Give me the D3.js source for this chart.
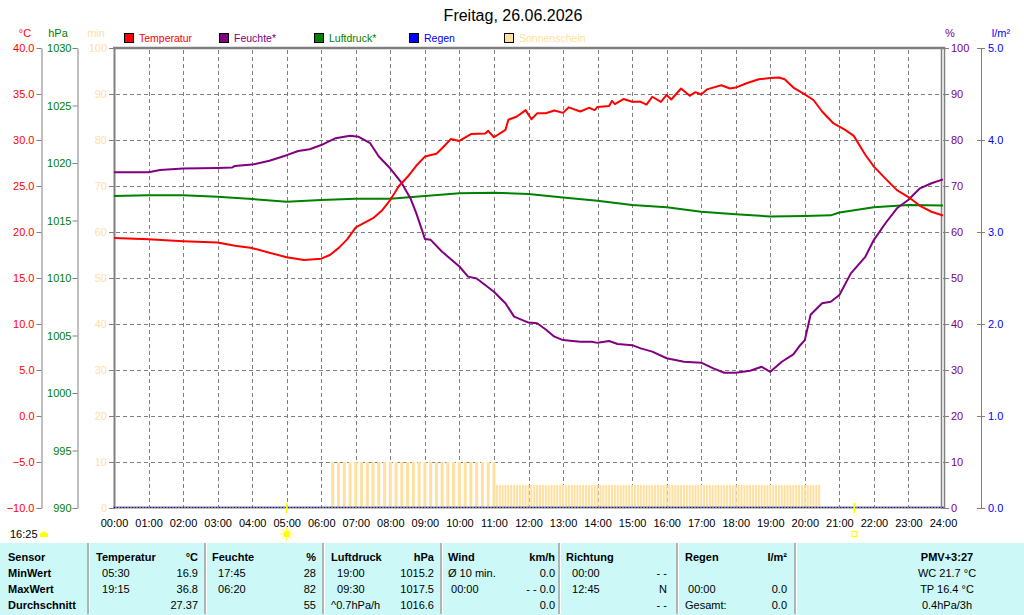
<!DOCTYPE html>
<html>
<head>
<meta charset="utf-8">
<script src="https://cdn.jsdelivr.net/npm/d3@7"></script>
<style>
html, body { margin: 0; padding: 0; background: #fff; }
#chart { display: block; }
</style>
</head>
<body>
<svg id="chart"></svg>
<script>
const svgWidth = 1024;
const svgHeight = 615;

// ---- DATA ----
const title = "Freitag, 26.06.2026";

const tempTime = ["00:00","01:00","02:00","03:00","03:30","04:00","04:30","05:00","05:30","06:00",
    "06:15","06:30","06:45","07:00","07:30","07:45","08:00","08:15","08:30","08:45","09:00",
    "09:20","09:30","09:45","10:00","10:20","10:45","10:50","11:00","11:20","11:25","11:40",
    "11:55","12:05","12:15","12:30","12:45","13:00","13:10","13:30","13:45","13:55","14:00",
    "14:20","14:25","14:30","14:45","15:00","15:15","15:25","15:35","15:50","16:00","16:08",
    "16:25","16:40","16:50","17:00","17:10","17:35","17:50","18:00","18:20","18:40","19:00",
    "19:15","19:25","19:35","19:40","20:00","20:15","20:30","20:50","21:10","21:25","21:45",
    "22:00","22:20","22:40","23:00","23:20","23:40","24:00"];
const tempValue = [19.35,19.2,19.0,18.85,18.5,18.25,17.75,17.25,16.95,17.1,
    17.5,18.25,19.2,20.5,21.5,22.3,23.5,25.0,26.0,27.2,28.2,
    28.5,29.1,30.1,29.9,30.65,30.7,31.0,30.3,31.1,32.2,32.55,
    33.25,32.25,32.9,32.9,33.2,32.95,33.55,33.1,33.5,33.25,33.6,
    33.7,34.25,33.9,34.45,34.15,34.15,33.85,34.7,34.15,34.9,34.4,
    35.6,34.8,35.2,34.95,35.5,35.95,35.6,35.7,36.2,36.6,36.75,
    36.8,36.6,36.0,35.7,34.95,34.35,33.1,31.8,31.1,30.45,28.4,
    27.1,25.8,24.55,23.8,22.85,22.2,21.8];

const humTime = ["00:00","01:00","01:20","02:00","03:00","03:25","03:30","04:00","04:30","05:00",
    "05:20","05:40","06:00","06:25","06:50","07:05","07:25","07:40","08:00","08:20","08:35",
    "08:45","08:55","09:00","09:10","09:30","10:00","10:15","10:30","11:00","11:20","11:35",
    "12:00","12:15","12:30","12:45","13:00","13:30","13:50","14:00","14:20","14:35","15:00",
    "15:15","15:35","16:00","16:30","17:00","17:20","17:40","18:00","18:25","18:45","19:00",
    "19:20","19:40","19:50","20:00","20:10","20:30","20:45","21:00","21:20","21:45","22:00",
    "22:20","22:40","23:00","23:20","23:40","24:00"];
const humValue = [73.0,73.0,73.5,73.8,73.9,74.0,74.35,74.65,75.5,76.7,
    77.6,78.0,78.9,80.4,80.9,80.7,79.3,76.4,73.8,70.6,67.3,
    64.1,60.4,58.5,58.3,55.7,52.5,50.3,49.9,47.0,44.5,41.6,
    40.3,40.15,38.8,37.25,36.5,36.15,36.15,35.9,36.3,35.65,35.4,
    34.7,34.0,32.55,31.8,31.6,30.4,29.4,29.4,29.85,30.7,29.6,
    31.8,33.4,35.1,36.5,42.0,44.5,44.85,46.3,51.0,54.6,58.3,
    61.9,65.15,67.0,69.5,70.6,71.45];

const presTime = ["00:00","01:00","02:00","03:00","04:00","05:00","06:00","07:00","08:00","09:00",
    "10:00","11:00","12:00","13:00","14:00","15:00","16:00","17:00","18:00","19:00","20:00",
    "20:45","21:00","22:00","23:00","24:00"];
const presValue = [1017.13,1017.2,1017.2,1017.07,1016.87,1016.63,1016.78,1016.9,1016.9,1017.13,
    1017.36,1017.42,1017.3,1017.0,1016.72,1016.35,1016.15,1015.77,1015.54,1015.35,1015.4,
    1015.45,1015.7,1016.15,1016.35,1016.3];

const rainTime = ["00:00","06:00","12:00","18:00","24:00"];
const rainValue = [0.0,0.0,0.0,0.0,0.0];

// sunshine minutes: 10-minute records from 06:20, then 5-minute records from 11:05
const sunLongStart = "06:20";
const sunLong = [10,10,10,10,10,10,10,10,10,10,10,10,
                 10,10,10,10,10,10,10,10,10,10,10,10,
                 10,10,10,10,10];
const sunShortStart = "11:05";
const sunShort = [5,5,5,5,5,5,5,5,5,5,5,5,
                  5,5,5,5,5,5,5,5,5,5,5,5,
                  5,5,5,5,5,5,5,5,5,5,5,5,
                  5,5,5,5,5,5,5,5,5,5,5,5,
                  5,5,5,5,5,5,5,5,5,5,5,5,
                  5,5,5,5,5,5,5,5,5,5,5,5,
                  5,5,5,5,5,5,5,5,5,5,5,5,
                  5,5,5,5,5,5,5,5,5,5,5,5,
                  5,5,5,5,5,5,5,5,5,5,5,5,
                  5,5,5,5,5];

const sunrise = "05:00";
const sunset = "21:26";
const dayLength = "16:25";

const hourTicks = d3.range(0, 25);
const tempTicks = [40,35,30,25,20,15,10,5,0,-5,-10];
const presTicks = [1030,1025,1020,1015,1010,1005,1000,995,990];
const pctTicks = [100,90,80,70,60,50,40,30,20,10,0];
const rainTicks = [5,4,3,2,1,0];

const legendNames = ["Temperatur","Feuchte*","Luftdruck*","Regen","Sonnenschein"];

const NB = "\u00a0";
const tableRows = [
    ["Sensor","Temperatur","°C","Feuchte","%","Luftdruck","hPa","Wind","km/h","Richtung","","Regen","l/m²","PMV+3:27"],
    ["MinWert",NB+NB+"05:30","16.9",NB+NB+"17:45","28",NB+NB+"19:00","1015.2","Ø 10 min.","0.0",NB+NB+"00:00","- -","","","WC 21.7 °C"],
    ["MaxWert",NB+NB+"19:15","36.8",NB+NB+"06:20","82",NB+NB+"09:30","1017.5",NB+"00:00","- - 0.0",NB+NB+"12:45","N",NB+"00:00","0.0","TP 16.4 °C"],
    ["Durchschnitt","","27.37","","55","^0.7hPa/h","1016.6","","0.0","","- -","Gesamt:","0.0","0.4hPa/3h"]
];

// ---- COLOURS / LAYOUT ----
const cTemp = "#ff0000", cHum = "#800080", cPres = "#008000", cRain = "#0000ff", cSun = "#ffe0a0";
const cGrid = "#808080";
const fontFam = "Liberation Sans, Arial, sans-serif";

var margin = { top: 48, left: 114, right: 1024 - 943, bottom: 615 - 508 };
var innerWidth = svgWidth - margin.left - margin.right;
var innerHeight = svgHeight - margin.top - margin.bottom;

const svg = d3.select("#chart")
    .attr("width", svgWidth)
    .attr("height", svgHeight)
    .attr("viewBox", "0 0 " + svgWidth + " " + svgHeight)
    .attr("font-family", fontFam)
    .attr("font-size", 11);

function toHour(s) {
    var p = s.split(":");
    return +p[0] + (+p[1]) / 60;
}
function zip(times, vals) {
    return times.map(function (t, i) { return { h: toHour(t), v: vals[i] }; });
}

// SCALES
const x = d3.scaleLinear().domain([0, 24]).range([margin.left, margin.left + innerWidth]);
const yTemp = d3.scaleLinear().domain([-10, 40]).range([508, 48]);
const yPres = d3.scaleLinear().domain([990, 1030]).range([508, 48]);
const yPct = d3.scaleLinear().domain([0, 100]).range([508, 48]);
const yRain = d3.scaleLinear().domain([0, 5]).range([508, 48]);

// TITLE
svg.append("text")
    .attr("x", 513).attr("y", 21)
    .attr("text-anchor", "middle")
    .attr("font-size", 16)
    .text(title);

// AXIS HEADERS
function header(txt, xp, col) {
    svg.append("text").attr("x", xp).attr("y", 37)
        .attr("text-anchor", "middle")
        .attr("fill", col).text(txt);
}
header("°C", 25, cTemp);
header("hPa", 58, cPres);
header("min", 96, cSun);
header("%", 950, cHum);
header("l/m²", 1001, cRain);

// LEGEND
const legendColors = [cTemp, cHum, cPres, cRain, cSun];
const legendX = [124.5, 219.5, 314.5, 409.5, 504.5];
legendNames.forEach(function (name, i) {
    svg.append("rect")
        .attr("x", legendX[i]).attr("y", 33.5)
        .attr("width", 9).attr("height", 9)
        .attr("fill", legendColors[i])
        .attr("stroke", "#000").attr("stroke-width", 1);
    svg.append("text")
        .attr("x", legendX[i] + 14.5).attr("y", 42)
        .attr("font-size", 10.5)
        .attr("fill", legendColors[i])
        .text(name);
});

// GRID
const grid = svg.append("g");
hourTicks.slice(1, 24).forEach(function (h) {
    grid.append("line")
        .attr("x1", Math.round(x(h)) + 0.5).attr("x2", Math.round(x(h)) + 0.5)
        .attr("y1", 50).attr("y2", 507)
        .attr("stroke", cGrid).attr("stroke-dasharray", "4,3");
});
pctTicks.slice(1, 10).forEach(function (p) {
    grid.append("line")
        .attr("x1", 116).attr("x2", 941)
        .attr("y1", Math.round(yPct(p)) + 0.5).attr("y2", Math.round(yPct(p)) + 0.5)
        .attr("stroke", cGrid).attr("stroke-dasharray", "4,3");
});

// SUNSHINE BARS
const sunBars = svg.append("g");
sunBars.selectAll("rect.long")
    .data(sunLong.map(function (v, i) { return { h: toHour(sunLongStart) + i * 10 / 60, v: v }; }))
    .enter().append("rect")
    .attr("x", function (d) { return x(d.h) - 1.5; })
    .attr("y", function (d) { return yPct(d.v); })
    .attr("width", 3)
    .attr("height", function (d) { return 508 - yPct(d.v); })
    .attr("fill", cSun);
sunBars.selectAll("rect.short")
    .data(sunShort.map(function (v, i) { return { h: toHour(sunShortStart) + i * 5 / 60, v: v }; }))
    .enter().append("rect")
    .attr("x", function (d) { return x(d.h) - 1; })
    .attr("y", function (d) { return yPct(d.v); })
    .attr("width", 2)
    .attr("height", function (d) { return 508 - yPct(d.v); })
    .attr("fill", cSun);

// AXES
function styleAxis(g, col, hideDomain) {
    g.attr("font-family", fontFam).attr("font-size", 11);
    g.selectAll("text").attr("fill", col);
    g.selectAll(".tick line").attr("stroke", cGrid);
    if (hideDomain) g.select(".domain").remove();
    else g.select(".domain").attr("stroke", cGrid);
}

svg.append("g")
    .attr("transform", "translate(41.5,0)")
    .call(d3.axisLeft(yTemp).tickValues(tempTicks).tickFormat(d3.format(".1f")).tickSize(5).tickSizeOuter(0).tickPadding(2))
    .call(styleAxis, cTemp, false);

svg.append("g")
    .attr("transform", "translate(77.5,0)")
    .call(d3.axisLeft(yPres).tickValues(presTicks).tickFormat(d3.format("d")).tickSize(5).tickSizeOuter(0).tickPadding(1))
    .call(styleAxis, cPres, false);

svg.append("g")
    .attr("transform", "translate(114,0)")
    .call(d3.axisLeft(yPct).tickValues(pctTicks).tickSize(5).tickPadding(2))
    .call(styleAxis, cSun, true);

svg.append("g")
    .attr("transform", "translate(943,0)")
    .call(d3.axisRight(yPct).tickValues(pctTicks).tickSize(6).tickPadding(2))
    .call(styleAxis, cHum, true);

svg.append("line")
    .attr("x1", 981.5).attr("x2", 981.5).attr("y1", 48).attr("y2", 508)
    .attr("stroke", cGrid);
svg.append("g")
    .attr("transform", "translate(977,0)")
    .call(d3.axisRight(yRain).tickValues(rainTicks).tickFormat(d3.format(".1f")).tickSize(8).tickPadding(3))
    .call(styleAxis, cRain, true);

svg.append("g")
    .attr("transform", "translate(0,508)")
    .call(d3.axisBottom(x).tickValues(hourTicks)
        .tickFormat(function (h) { return (h < 10 ? "0" : "") + h + ":00"; })
        .tickSize(0).tickPadding(11))
    .call(styleAxis, "#000", true);

// PLOT BORDER
svg.append("line").attr("x1", 113).attr("x2", 945).attr("y1", 48).attr("y2", 48)
    .attr("stroke", cGrid).attr("stroke-width", 2.5);
svg.append("line").attr("x1", 114.5).attr("x2", 114.5).attr("y1", 47).attr("y2", 509)
    .attr("stroke", cGrid).attr("stroke-width", 2);
svg.append("line").attr("x1", 113).attr("x2", 945).attr("y1", 507.5).attr("y2", 507.5)
    .attr("stroke", cGrid).attr("stroke-width", 2);
svg.append("line").attr("x1", 941.5).attr("x2", 941.5).attr("y1", 47).attr("y2", 509)
    .attr("stroke", cGrid).attr("stroke-width", 1.5);
svg.append("line").attr("x1", 944.5).attr("x2", 944.5).attr("y1", 47).attr("y2", 509)
    .attr("stroke", cGrid).attr("stroke-width", 1.5);

// LINES
function drawLine(data, yScale, col) {
    svg.append("path")
        .datum(data)
        .attr("fill", "none")
        .attr("stroke", col)
        .attr("stroke-width", 2)
        .attr("stroke-linejoin", "round")
        .attr("d", d3.line().x(function (d) { return x(d.h); }).y(function (d) { return yScale(d.v); }));
}
drawLine(zip(presTime, presValue), yPres, cPres);
drawLine(zip(humTime, humValue), yPct, cHum);
drawLine(zip(tempTime, tempValue), yTemp, cTemp);

// rain (dotted along zero)
svg.append("path")
    .datum(zip(rainTime, rainValue))
    .attr("fill", "none")
    .attr("stroke", cRain)
    .attr("stroke-width", 1)
    .attr("stroke-dasharray", "1,2")
    .attr("d", d3.line().x(function (d) { return x(d.h); }).y(function (d) { return yRain(d.v) - 0.5; }));

// SUNRISE / SUNSET
const sx = x(toHour(sunrise)), ssx = x(toHour(sunset));
svg.append("rect").attr("x", sx - 1).attr("y", 503).attr("width", 2).attr("height", 10).attr("fill", "#ffff00");
svg.append("rect").attr("x", ssx - 1).attr("y", 503).attr("width", 2).attr("height", 10).attr("fill", "#ffff00");
const sun = svg.append("g").attr("transform", "translate(" + sx + ",534)");
d3.range(8).forEach(function (i) {
    var a = i * Math.PI / 4;
    sun.append("line")
        .attr("x1", Math.cos(a) * 4).attr("y1", Math.sin(a) * 4)
        .attr("x2", Math.cos(a) * 6.5).attr("y2", Math.sin(a) * 6.5)
        .attr("stroke", "#ffff00").attr("stroke-width", 1);
});
sun.append("circle").attr("r", 3.5).attr("fill", "#ffff00");
svg.append("rect").attr("x", ssx - 2.5).attr("y", 531.5).attr("width", 5).attr("height", 5)
    .attr("fill", "none").attr("stroke", "#ffff00").attr("stroke-width", 1);

// day length
svg.append("text").attr("x", 10).attr("y", 538).text(dayLength);
svg.append("path")
    .attr("d", "M40,537 L40,534 Q44,529 48,534 L48,537 Z")
    .attr("fill", "#ffff00");

// TABLE
svg.append("rect").attr("x", 0).attr("y", 543).attr("width", svgWidth).attr("height", 72)
    .attr("fill", "#ccf8f8");
[88, 205, 323, 441, 559, 677, 795].forEach(function (sxp) {
    svg.append("line").attr("x1", sxp).attr("x2", sxp).attr("y1", 543).attr("y2", 614)
        .attr("stroke", "#a0a0a0").attr("stroke-width", 1.5);
    svg.append("line").attr("x1", sxp + 1.5).attr("x2", sxp + 1.5).attr("y1", 543).attr("y2", 614)
        .attr("stroke", "#ffffff").attr("stroke-width", 1);
});
const colX = [8, 96, 198, 212, 316, 331, 434, 448, 555, 566, 667, 685, 787, 947];
const colAnchor = ["start","start","end","start","end","start","end","start","end","start","end","start","end","middle"];
const rowY = [561, 577, 593, 609];
tableRows.forEach(function (row, r) {
    row.forEach(function (txt, c) {
        if (!txt) return;
        svg.append("text")
            .attr("x", colX[c]).attr("y", rowY[r])
            .attr("text-anchor", colAnchor[c])
            .attr("font-weight", (r === 0 || c === 0) ? "bold" : "normal")
            .text(txt);
    });
});
</script>
</body>
</html>
